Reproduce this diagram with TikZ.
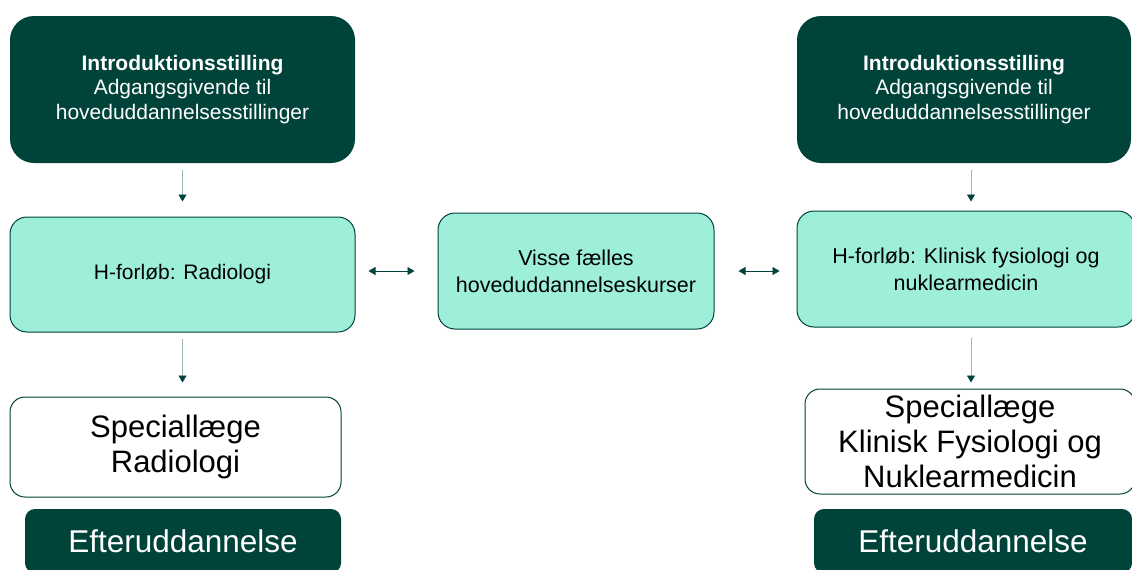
\documentclass[tikz,border=0pt]{standalone}
\usepackage{fontspec}
\setmainfont{Liberation Sans}
\usetikzlibrary{arrows.meta}

\definecolor{dkgreen}{HTML}{00433A}
\definecolor{mint}{HTML}{9DEFD9}
\definecolor{shaft}{HTML}{9DB8B4}

\begin{document}
\begin{tikzpicture}[
    x=1pt, y=-1pt,
    introbox/.style={fill=dkgreen, text=white, rounded corners=24pt, align=center,
      inner sep=0pt, minimum height=147pt, font=\fontsize{21}{24.5}\selectfont},
    hbox/.style={fill=mint, draw=dkgreen, line width=1pt, rounded corners=17pt,
      align=center, inner sep=0pt, minimum height=116pt, font=\fontsize{21.5}{27}\selectfont},
    specbox/.style={fill=white, draw=dkgreen, line width=1pt, rounded corners=15pt,
      align=center, inner sep=0pt, font=\fontsize{31}{35}\selectfont},
    eftbox/.style={fill=dkgreen, text=white, rounded corners=10pt, inner sep=0pt,
      minimum height=64pt, font=\fontsize{31.5}{35}\selectfont},
    down/.style={draw=shaft, line width=0.8pt, -{Triangle[length=7pt, width=8pt, color=dkgreen]}},
    both/.style={draw=dkgreen, line width=0.6pt,
      {Triangle[length=7pt, width=8pt]}-{Triangle[length=7pt, width=8pt]}},
  ]
  \useasboundingbox (0,0) rectangle (1132,570);
  \clip (0,0) rectangle (1132,570);

  % left column: Radiologi
  \node[introbox, minimum width=345pt] (introL) at (182.5,89.5)
    {\textbf{Introduktionsstilling}\\Adgangsgivende til\\hoveduddannelsesstillinger};
  \node[hbox, minimum width=345pt, minimum height=115pt, font=\fontsize{21}{27}\selectfont]
    (hL) at (182.5,274.5) {H-forløb: Radiologi};
  \node[specbox, minimum width=331pt, minimum height=100pt] (specL) at (175.5,447)
    {Speciallæge\\Radiologi};
  \node[eftbox, minimum width=316pt] (eftL) at (183,541) {Efteruddannelse};

  % shared courses in the middle
  \node[hbox, minimum width=276pt] (mid) at (576,271)
    {Visse fælles\\hoveduddannelseskurser};

  % right column: Klinisk fysiologi og nuklearmedicin
  \node[introbox, minimum width=334pt] (introR) at (964,89.5)
    {\textbf{Introduktionsstilling}\\Adgangsgivende til\\hoveduddannelsesstillinger};
  \node[hbox, minimum width=338pt] (hR) at (966,269)
    {H-forløb: Klinisk fysiologi og\\nuklearmedicin};
  \node[specbox, minimum width=330pt, minimum height=105pt] (specR) at (970,441.5)
    {Speciallæge\\Klinisk Fysiologi og\\Nuklearmedicin};
  \node[eftbox, minimum width=318pt] (eftR) at (973,541) {Efteruddannelse};

  % flow arrows
  \draw[down, shorten <=7pt, shorten >=15pt] (introL.south) -- (hL.north);
  \draw[down, shorten <=6pt, shorten >=14pt] (hL.south) -- (hL.south |- specL.north);
  \draw[down, shorten <=7pt, shorten >=9pt] ([xshift=7pt]introR.south) -- ([xshift=5pt]hR.north);
  \draw[down, shorten <=10pt, shorten >=6pt] ([xshift=5pt]hR.south) -- ([xshift=5pt]hR.south |- specR.north);

  \draw[both, shorten <=13pt, shorten >=23pt] (hL.east |- mid.west) -- (mid.west);
  \draw[both, shorten <=24pt, shorten >=17pt] (mid.east) -- (hR.west |- mid.east);
\end{tikzpicture}
\end{document}
